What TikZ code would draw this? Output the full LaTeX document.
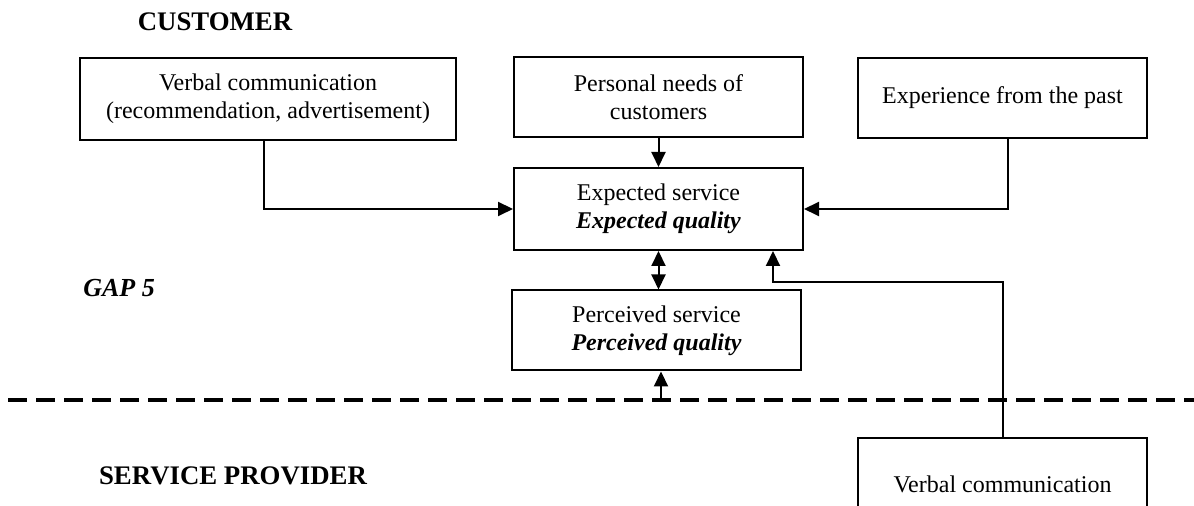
\documentclass[tikz,border=0pt]{standalone}
\usepackage{fontspec}
\setmainfont{Liberation Serif}
\usepackage{tikz}
\usetikzlibrary{arrows.meta,positioning,calc}

\begin{document}
\begin{tikzpicture}[x=0.5pt,y=-0.5pt,
  box/.style={draw,line width=1pt,align=center,inner sep=0pt,minimum width=144.5pt,minimum height=40pt,font=\fontsize{12}{13.8}\selectfont},
  conn/.style={line width=1pt,-{Triangle[length=7.5pt,width=7pt]}},
  part/.style={font=\fontsize{13.4}{16}\selectfont\bfseries}]
\useasboundingbox (0,0) rectangle (1194,506);
\clip (0,0) rectangle (1194,506);
% customer side
\node[part] (cust) at (215,22) {CUSTOMER};
\node[box,minimum width=188pt,minimum height=41pt] (vc) at (268,99) {Verbal communication\\(recommendation, advertisement)};
\node[box] (pn) at (658.5,97) {Personal needs of\\customers};
\node[box] (ep) at (1002.5,98) {Experience from the past};
\node[box,minimum height=41pt] (es) at (658.5,209) {Expected service\\\textbf{\textit{Expected quality}}};
\node[box] (ps) at (656.5,330.5) {Perceived service\\\textbf{\textit{Perceived quality}}};
\node[part,font=\fontsize{13}{16}\selectfont\bfseries\itshape] (gap) at (119,288) {GAP 5};
% boundary
\coordinate (dl) at (8,400);
\coordinate (dr) at (1194,400);
\draw[line width=2pt,dash pattern=on 9.5pt off 4.5pt] (dl) -- (dr);
% provider side
\node[part] (prov) at (233,476) {SERVICE PROVIDER};
\node[box,minimum height=46pt] (vp) at (1002.5,484) {Verbal communication};
% connectors
\draw[conn] ([xshift=-2pt]vc.south) |- (es.west);
\draw[conn] (pn.south) -- (es.north);
\draw[conn] ([xshift=2.5pt]ep.south) |- (es.east);
\draw[line width=1pt,{Triangle[length=7.5pt,width=7pt]}-{Triangle[length=7.5pt,width=7pt]}] (es.south) -- (es.south |- ps.north);
\coordinate (pa) at (661,400);
\draw[conn] (pa) -- (pa |- ps.south);
\coordinate (turn) at (773,282);
\draw[conn] (vp.north) |- (turn) -- (turn |- es.south);
\end{tikzpicture}
\end{document}
